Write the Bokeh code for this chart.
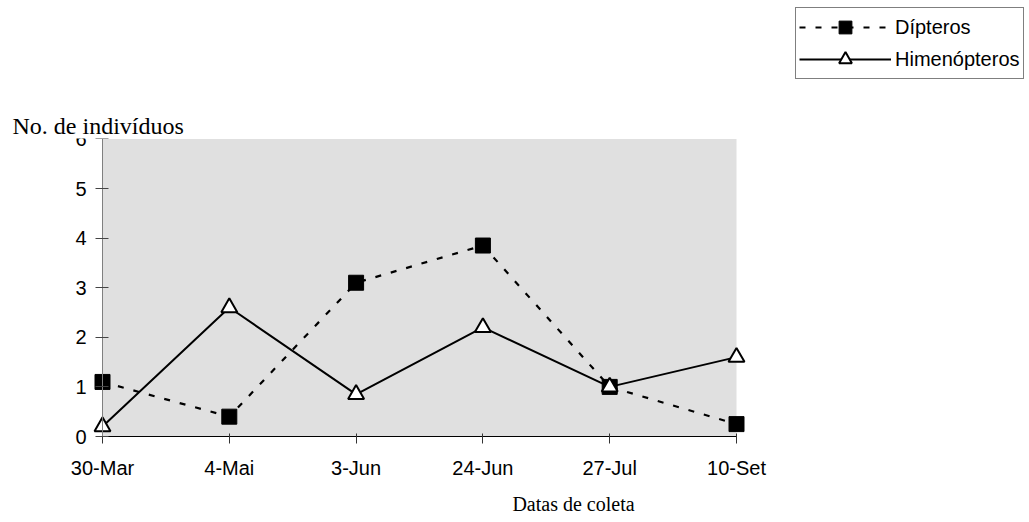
from bokeh.plotting import figure
from bokeh.models import Range1d, FixedTicker, Legend, LegendItem, Label, ColumnDataSource, BoxAnnotation
from bokeh.embed import file_html
from bokeh.resources import INLINE

dates = ["30-Mar", "4-Mai", "3-Jun", "24-Jun", "27-Jul", "10-Set"]
dipteros = [1.1, 0.4, 3.1, 3.85, 1.0, 0.25]
himenopteros = [0.2, 2.6, 0.85, 2.2, 1.0, 1.6]
y_ticks = [0, 1, 2, 3, 4, 5, 6]

idx = list(range(len(dates)))
src = ColumnDataSource(dict(x=idx, dip=dipteros, him=himenopteros))

W, H = 1029, 522
X0, X1 = 102.0, 736.0      # pixel of first / last category
Y0, YT = 436.0, 138.4      # pixel of y=0 / y=top
ux = (X1 - X0) / (len(dates) - 1)
ymax = y_ticks[-1]
uy = (Y0 - YT) / ymax

p = figure(width=W, height=H, output_backend="svg", toolbar_location=None,
           x_range=Range1d(-X0 / ux, (W - X0) / ux),
           y_range=Range1d(-(H - Y0) / uy, ymax + YT / uy),
           min_border=0)
p.background_fill_color = "white"
p.border_fill_color = "white"
p.outline_line_color = None
p.xgrid.visible = False
p.ygrid.visible = False

p.add_layout(BoxAnnotation(left=0, right=len(dates) - 1, bottom=0, top=ymax,
                           fill_color="#e0e0e0", fill_alpha=1.0, line_color=None, level="underlay"))

SANS = "Liberation Sans"
SERIF = "Liberation Serif"

p.xaxis.fixed_location = 0
p.xaxis.bounds = (0, len(dates) - 1)
p.xaxis.ticker = FixedTicker(ticks=idx)
p.xaxis.major_label_overrides = {i: d for i, d in enumerate(dates)}
p.xaxis.minor_tick_line_color = None
p.xaxis.axis_line_color = "black"
p.xaxis.major_tick_line_color = "#333333"
p.xaxis.major_tick_in = 3
p.xaxis.major_tick_out = 7
p.xaxis.major_label_standoff = 13
p.xaxis.major_label_text_font = SANS
p.xaxis.major_label_text_font_size = "20px"
p.xaxis.major_label_text_color = "black"

p.yaxis.fixed_location = 0
p.yaxis.bounds = (0, ymax)
p.yaxis.ticker = FixedTicker(ticks=y_ticks)
p.yaxis.minor_tick_line_color = None
p.yaxis.axis_line_color = "#808080"
p.yaxis.major_tick_line_color = "#444444"
p.yaxis.major_tick_in = 6
p.yaxis.major_tick_out = 7
p.yaxis.major_label_standoff = 9
p.yaxis.major_label_text_font = SANS
p.yaxis.major_label_text_font_size = "20px"
p.yaxis.major_label_text_color = "black"

l1 = p.line("x", "dip", source=src, line_color="black", line_width=2.2, line_dash="6 10")
m1 = p.scatter("x", "dip", source=src, marker="square", size=15, fill_color="black", line_color="black")
l2 = p.line("x", "him", source=src, line_color="black", line_width=2)
m2 = p.scatter("x", "him", source=src, marker="triangle", size=16, fill_color="white",
               line_color="black", line_width=2)

legend = Legend(items=[LegendItem(label="Dípteros", renderers=[l1, m1]),
                       LegendItem(label="Himenópteros", renderers=[l2, m2])],
                location=(795, H - 79))
legend.border_line_color = "black"
legend.border_line_width = 1
legend.background_fill_color = "white"
legend.background_fill_alpha = 1
legend.padding = 3
legend.spacing = 0
legend.margin = 0
legend.glyph_width = 92
legend.glyph_height = 32
legend.label_height = 32
legend.label_standoff = 4
legend.label_text_font = SANS
legend.label_text_font_size = "20px"
legend.label_text_color = "black"
p.add_layout(legend, "center")

ylab = Label(x=(12 - X0) / ux, y=(Y0 - 125) / uy, text="No. de indivíduos",
             text_align="left", text_baseline="alphabetic",
             text_font=SERIF, text_font_size="24px", text_color="black",
             background_fill_color="white", background_fill_alpha=1.0)
p.add_layout(ylab)
xlab = Label(x=(573 - X0) / ux, y=(Y0 - 503) / uy, text="Datas de coleta",
             text_align="center", text_baseline="alphabetic",
             text_font=SERIF, text_font_size="20px", text_color="black")
p.add_layout(xlab)

open("out.html", "w").write(file_html(p, INLINE))
